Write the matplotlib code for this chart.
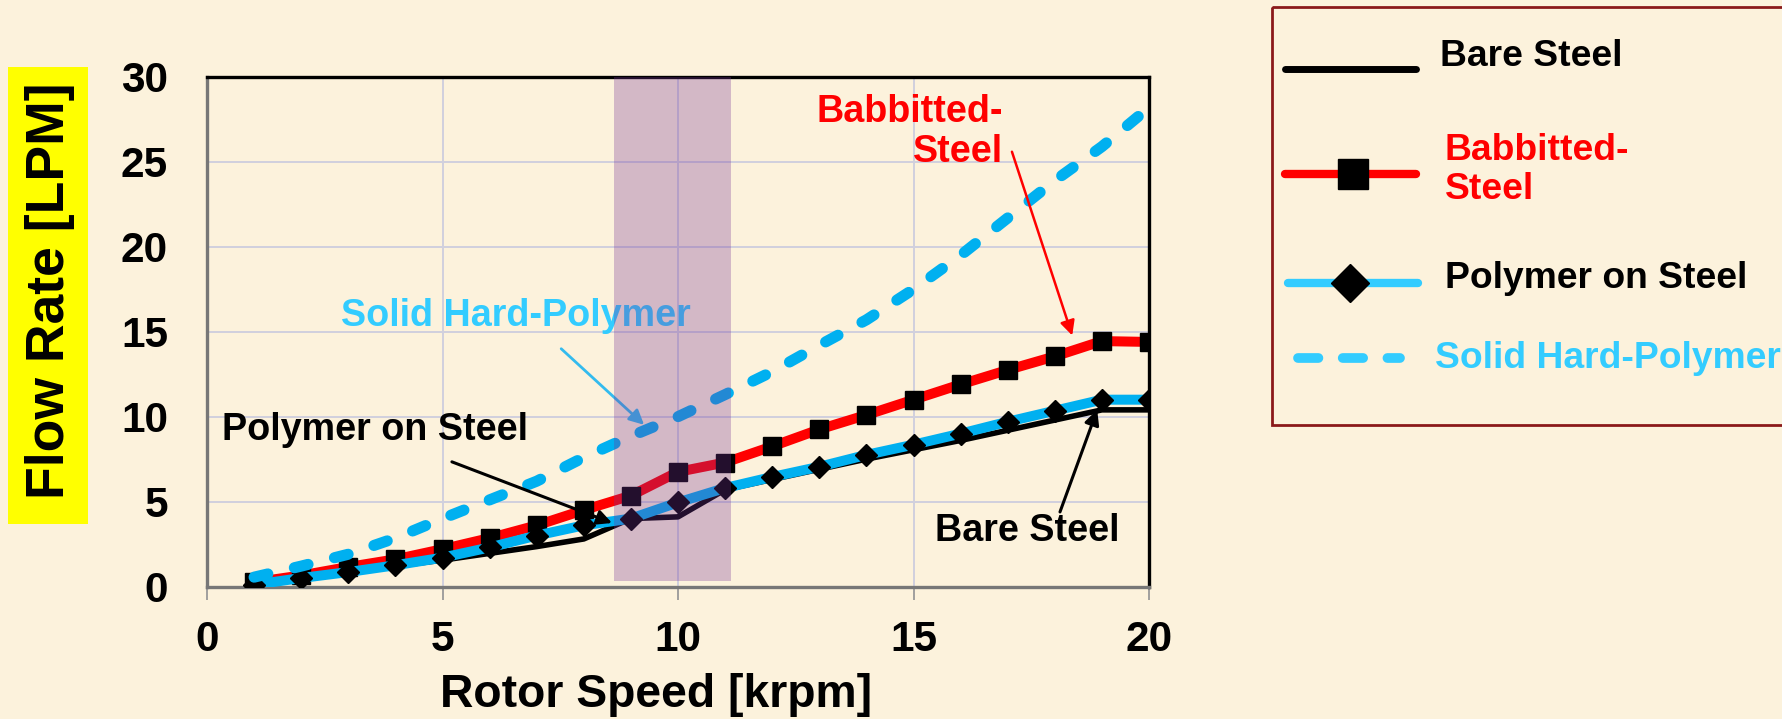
import matplotlib
matplotlib.use("Agg")
import matplotlib.pyplot as plt
from matplotlib.patches import Rectangle
from matplotlib.lines import Line2D

plt.rcParams['font.family'] = ['Liberation Sans', 'DejaVu Sans']
plt.rcParams['font.weight'] = 'bold'

# Rotor speed [krpm]
speed = [1, 2, 3, 4, 5, 6, 7, 8, 9, 10, 11, 12, 13, 14, 15, 16, 17, 18, 19, 20]

# Flow rate [LPM] for each bearing type
bare_steel = [0.1, 0.45, 0.8, 1.2, 1.55, 1.95, 2.35, 2.8, 4.0, 4.1, 5.7,
              6.3, 6.9, 7.5, 8.05, 8.6, 9.2, 9.8, 10.4, 10.4]
babbitted_steel = [0.25, 0.65, 1.15, 1.6, 2.2, 2.85, 3.6, 4.5, 5.35, 6.75, 7.3,
                   8.25, 9.25, 10.1, 11.0, 11.9, 12.75, 13.55, 14.45, 14.4]
polymer_on_steel = [0.1, 0.5, 0.85, 1.25, 1.7, 2.3, 3.0, 3.6, 4.0, 4.95, 5.8,
                    6.45, 7.05, 7.75, 8.35, 9.0, 9.7, 10.35, 11.0, 11.0]
solid_hard_polymer = [0.55, 1.2, 1.9, 2.85, 4.0, 5.1, 6.2, 7.6, 8.85, 10.0, 11.3,
                      12.65, 14.2, 15.7, 17.5, 19.5, 21.7, 23.9, 25.9, 28.2]

# Highlighted speed range [krpm]
band_range = [8.65, 11.12]

x_ticks = [0, 5, 10, 15, 20]
y_ticks = [0, 5, 10, 15, 20, 25, 30]

BG = '#FCF2DC'
BLUE = '#00B0F0'
LIGHT_BLUE = '#33CCFF'
RED = '#FF0000'
ANNOT_SIZE = 27.2
LEGEND_SIZE = 26.8

W, H = 1783, 719
fig = plt.figure(figsize=(W / 100, H / 100), dpi=100, facecolor=BG)

ax = fig.add_axes([207 / W, 1 - 586.5 / H, (1149 - 207) / W, (586.5 - 77) / H])
ax.set_facecolor('none')
ax.set_xlim(0, 20)
ax.set_ylim(0, 30)
ax.set_xticks(x_ticks)
ax.set_yticks(y_ticks)
ax.grid(True, color='#d0d0de', lw=1.4)
ax.set_axisbelow(True)

for side in ('top', 'right'):
    ax.spines[side].set_color('black')
    ax.spines[side].set_linewidth(2.4)
for side in ('left', 'bottom'):
    ax.spines[side].set_color('#777777')
    ax.spines[side].set_linewidth(2.4)

ax.tick_params(axis='x', length=9, width=1.3, color='#999999', pad=15,
               labelsize=30.5)
ax.tick_params(axis='y', length=0, pad=28, labelsize=30.5)
for lbl in ax.get_xticklabels() + ax.get_yticklabels():
    lbl.set_fontweight('bold')

# Series, in drawing order
ax.plot(speed, bare_steel, color='black', lw=4, zorder=3)
ax.plot(speed, babbitted_steel, color=RED, lw=7.2, marker='s', ms=13,
        mfc='black', mec='black', zorder=4)
ax.plot(speed, polymer_on_steel, color=BLUE, lw=7.2, marker='D', ms=11.5,
        mfc='black', mec='black', zorder=5)
ax.plot(speed, solid_hard_polymer, color=BLUE, lw=8, ls=(0, (1.27, 2.45)),
        dash_capstyle='round', zorder=6)

# Shaded speed band drawn over everything
ax.axvspan(band_range[0], band_range[1], ymin=0.3 / 30, ymax=1,
           color='#753296', alpha=0.3, lw=0, zorder=20)

# Callouts
txt_kw = dict(fontsize=ANNOT_SIZE, fontweight='bold', zorder=8)
ax.text(0.32, 9.22, 'Polymer on Steel', color='black', ha='left', va='center', **txt_kw)
ax.annotate('', xy=(8.6, 3.74), xytext=(5.2, 7.34), zorder=8,
            arrowprops=dict(arrowstyle='-|>', color='black', lw=2.2,
                            mutation_scale=22, shrinkA=0, shrinkB=0))

ax.text(2.85, 15.94, 'Solid Hard-Polymer', color=LIGHT_BLUE, ha='left', va='center', **txt_kw)
ax.annotate('', xy=(9.28, 9.52), xytext=(7.52, 14.0), zorder=8,
            arrowprops=dict(arrowstyle='-|>', color='#33BBEE', lw=2.0,
                            mutation_scale=22, shrinkA=0, shrinkB=0))

ax.text(16.9, 26.78, 'Babbitted-\nSteel', color=RED, ha='right', va='center',
        multialignment='right', linespacing=1.15, **txt_kw)
ax.annotate('', xy=(18.37, 14.78), xytext=(17.09, 25.6), zorder=8,
            arrowprops=dict(arrowstyle='-|>', color=RED, lw=1.8,
                            mutation_scale=22, shrinkA=0, shrinkB=0))

ax.text(17.41, 3.27, 'Bare Steel', color='black', ha='center', va='center', **txt_kw)
ax.annotate('', xy=(18.9, 10.4), xytext=(18.11, 4.39), zorder=8,
            arrowprops=dict(arrowstyle='-|>', color='black', lw=2.2,
                            mutation_scale=22, shrinkA=0, shrinkB=0))

# Axis titles
ax.set_xlabel('Rotor Speed [krpm]', fontsize=33.3, fontweight='bold')
ax.xaxis.label.set_va('center')
ax.xaxis.set_label_coords(0.477, -0.213)

fig.patches.append(Rectangle((8 / W, 1 - 524 / H), 80 / W, (524 - 67) / H,
                             transform=fig.transFigure, facecolor='#FFFF00',
                             edgecolor='none', zorder=1))
fig.text(50 / W, 1 - 291 / H, 'Flow Rate [LPM]', rotation=90, fontsize=38.5,
         fontweight='bold', ha='center', va='center', zorder=2)

# Legend panel in pixel coordinates
lax = fig.add_axes([0, 0, 1, 1], zorder=5)
lax.set_xlim(0, W)
lax.set_ylim(H, 0)
lax.axis('off')
lax.set_facecolor('none')
lax.add_patch(Rectangle((1272, 7), 700, 418, facecolor='none',
                        edgecolor='#8B1A1A', lw=2))

lax.add_line(Line2D([1285, 1416], [69, 69], color='black', lw=5,
                    solid_capstyle='round'))
lax.text(1440, 57, 'Bare Steel', color='black', ha='left', va='center',
         fontsize=LEGEND_SIZE, fontweight='bold')

lax.add_line(Line2D([1285, 1416], [174, 174], color=RED, lw=6,
                    solid_capstyle='round'))
lax.add_line(Line2D([1353], [174], marker='s', ms=21.5, mfc='black', mec='black'))
lax.text(1445, 170, 'Babbitted-\nSteel', color=RED, ha='left', va='center',
         fontsize=LEGEND_SIZE, fontweight='bold', linespacing=1.15)

lax.add_line(Line2D([1288, 1418], [283, 283], color=LIGHT_BLUE, lw=6,
                    solid_capstyle='round'))
lax.add_line(Line2D([1350], [283], marker='D', ms=19, mfc='black', mec='black'))
lax.text(1445, 278, 'Polymer on Steel', color='black', ha='left', va='center',
         fontsize=LEGEND_SIZE, fontweight='bold')

lax.add_line(Line2D([1298, 1400], [358, 358], color=LIGHT_BLUE, lw=7,
                    ls=(0, (2.1, 2.5)), dash_capstyle='round'))
lax.text(1435, 358, 'Solid Hard-Polymer', color=LIGHT_BLUE, ha='left', va='center',
         fontsize=LEGEND_SIZE, fontweight='bold')

fig.savefig('out.png', dpi=100, facecolor=BG)
